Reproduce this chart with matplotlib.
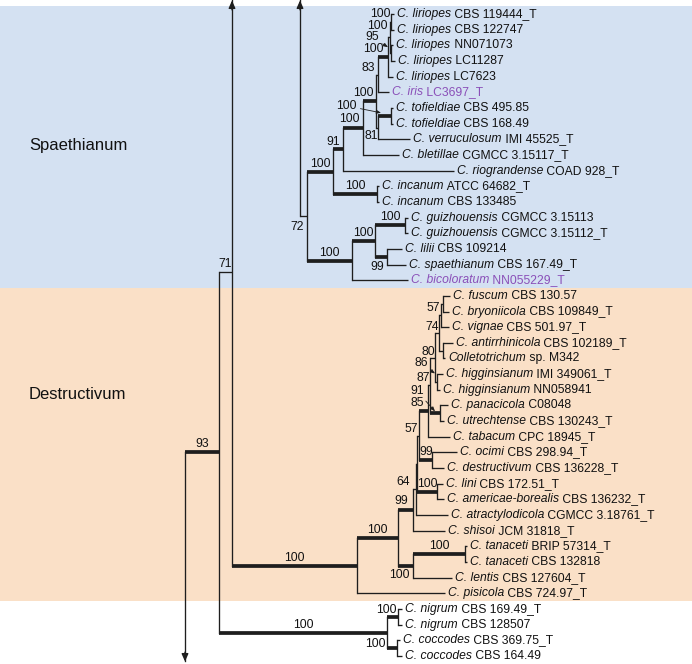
import matplotlib
matplotlib.use("Agg")
import matplotlib.pyplot as plt
from matplotlib import transforms

plt.rcParams['font.family'] = ['Liberation Sans', 'DejaVu Sans']

# ---------------- data ----------------
leaf_species = [
    'C. liriopes', 'C. liriopes', 'C. liriopes', 'C. liriopes', 'C. liriopes',
    'C. iris', 'C. tofieldiae', 'C. tofieldiae', 'C. verruculosum', 'C. bletillae',
    'C. riograndense', 'C. incanum', 'C. incanum', 'C. guizhouensis', 'C. guizhouensis',
    'C. lilii', 'C. spaethianum', 'C. bicoloratum',
    'C. fuscum', 'C. bryoniicola', 'C. vignae', 'C. antirrhinicola', 'Colletotrichum',
    'C. higginsianum', 'C. higginsianum', 'C. panacicola', 'C. utrechtense', 'C. tabacum',
    'C. ocimi', 'C. destructivum', 'C. lini', 'C. americae-borealis', 'C. atractylodicola',
    'C. shisoi', 'C. tanaceti', 'C. tanaceti', 'C. lentis', 'C. pisicola',
    'C. nigrum', 'C. nigrum', 'C. coccodes', 'C. coccodes']
leaf_strains = [
    'CBS 119444_T', 'CBS 122747', 'NN071073', 'LC11287', 'LC7623',
    'LC3697_T', 'CBS 495.85', 'CBS 168.49', 'IMI 45525_T', 'CGMCC 3.15117_T',
    'COAD 928_T', 'ATCC 64682_T', 'CBS 133485', 'CGMCC 3.15113', 'CGMCC 3.15112_T',
    'CBS 109214', 'CBS 167.49_T', 'NN055229_T',
    'CBS 130.57', 'CBS 109849_T', 'CBS 501.97_T', 'CBS 102189_T', 'sp. M342',
    'IMI 349061_T', 'NN058941', 'C08048', 'CBS 130243_T', 'CPC 18945_T',
    'CBS 298.94_T', 'CBS 136228_T', 'CBS 172.51_T', 'CBS 136232_T', 'CGMCC 3.18761_T',
    'JCM 31818_T', 'BRIP 57314_T', 'CBS 132818', 'CBS 127604_T', 'CBS 724.97_T',
    'CBS 169.49_T', 'CBS 128507', 'CBS 369.75_T', 'CBS 164.49']
leaf_parent = [
    'a', 'a', 'b', 'b', 'L1',
    'L0', 'TOF', 'TOF', 'T81', 'S3',
    'S2', 'INC', 'INC', 'GZ', 'GZ',
    'LS', 'LS', 'G',
    'f', 'f', 'fv', 'am', 'am',
    'hig', 'hig', 'pu', 'pu', 'B10',
    'OD', 'OD', 'LA', 'LA', 'D3',
    'D2', 'TAN', 'TAN', 'DT', 'DR',
    'NG', 'NG', 'CC', 'CC']
leaf_branch = [
    2.5, 2.5, 2.5, 4.0, 4.5,
    11.0, 1.5, 1.5, 31.5, 35.5,
    110.5, 1.5, 1.5, 2.5, 2.5,
    14.5, 18.5, 55.5,
    6.5, 5.5, 7.5, 9.5, 1.5,
    5.5, 2.5, 7.5, 3.5, 21.5,
    24.5, 11.5, 5.5, 6.5, 31.5,
    31.5, 1.5, 1.5, 38.5, 87.5,
    3.5, 3.5, 2.5, 4.5]
highlight_taxa = ['C. iris', 'C. bicoloratum']

node_names = ['R', 'N93', 'N71', 'DR', 'D1', 'D2', 'D3', 'X', 'Y', 'B10', 'v', 'u', 't',
              'fv', 'f', 'am', 'hig', 'pu', 'OD', 'LA', 'DT', 'TAN', 'NC', 'NG', 'CC',
              'N72', 'A', 'S1', 'S2', 'S3', 'N1', 'L0', 'L1', 'L2', 'a', 'b', 'T81', 'TOF',
              'INC', 'G', 'GL', 'GZ', 'LS']
node_parent = ['origin', 'R', 'N93', 'N71', 'DR', 'D1', 'D2', 'D3', 'X', 'Y', 'B10', 'v', 'u',
               't', 'fv', 't', 'u', 'v', 'Y', 'X', 'D1', 'DT', 'N93', 'NC', 'NC',
               'origin', 'N72', 'A', 'S1', 'S2', 'S3', 'N1', 'L0', 'L1', 'L2', 'L2', 'N1', 'T81',
               'S1', 'A', 'G', 'GL', 'GL']
node_branch = [185, 34, 13, 125, 41, 15, 3, 1, 2, 9, 2, 5, 4,
               2, 2, 4, 2, 10, 13, 20, 15, 52, 168, 11, 10,
               300, 7, 26, 10, 20, 13, 1.5, 10.5, 1.5, 1.5, 1.0, 2, 13,
               44, 45, 23, 30, 12]
node_support = [None, 93, 71, 100, 100, 99, 64, None, 57, 85, 87, 80, 74,
                57, None, None, 86, 91, 99, 100, 100, 100, 100, 100, 100,
                None, 72, 100, 91, 100, 100, 83, 100, 100, 100, 95, 81, 100,
                100, 100, 100, 100, 99]
node_thick = [False, True, False, True, True, True, False, False, False, True, False, False, False,
              False, False, False, False, True, True, True, True, True, True, True, True,
              False, False, True, True, True, True, False, True, False, False, False, False, True,
              True, True, True, True, True]

# lineages leaving the drawn part of the tree (position in leaf-row units)
hidden_names = ['up71', 'up72', 'down']
hidden_parent = ['N71', 'N72', 'R']
hidden_pos = [-2.30, -5.0, 44.0]
arrow_dir = {'N71': 'up', 'N72': 'up', 'R': 'down'}

group_names = ['Spaethianum', 'Destructivum']
group_first = [0, 18]
group_last = [17, 37]
group_colors = ['#d4e1f2', '#fae0c7']

# ---------------- layout (styling only) ----------------
W, H = 692, 664
ROW0, ROW = 14.0, 15.659
label_place = {  # support label centre relative to node, px (dx right, dy down)
    'A': (-10, 11), 'S2': (-10, -7), 'S3': (-14, -9), 'N1': (-12.5, -8.5), 'T81': (-7, 8),
    'TOF': (-45, -10), 'L0': (-9.5, -6.5), 'L1': (-15, -8), 'L2': (-12.5, -11.5),
    'a': (-11, -8), 'b': (-18.5, -16), 'LS': (-10, 10),
    'DT': (-14, 9.5), 'D2': (-12, -9), 'D3': (-13, -7), 'OD': (-6, -8), 'Y': (-8, -7),
    'B10': (-11, -8.5), 'v': (-7, -7), 'u': (-7, -6), 't': (-7, -6.5), 'fv': (-8, -7),
    'hig': (-16, -18.5), 'pu': (-23, -22), 'NG': (-12, -7), 'CC': (-22, -4),
}
label_leader = {'TOF': (-10, -3), 'b': (-2.5, -6), 'hig': (-2, -8.5), 'pu': (-5, -2)}
group_label_rows = [8.37, 24.33]
arrow_tip_px = {'up': 0.5, 'down': 661.5}

LINE = '#1e1e1e'
TXT = '#111111'
PURPLE = '#8a4fb8'
FS = 8.7
THIN, THICK = 0.95, 2.7

# ---------------- tree layout ----------------
parent = {}
blen = {}
for n, p, b in zip(node_names, node_parent, node_branch):
    parent[n] = p; blen[n] = b
leaf_ids = ['leaf%d' % i for i in range(len(leaf_species))]
for n, p, b in zip(leaf_ids, leaf_parent, leaf_branch):
    parent[n] = p; blen[n] = b
for n, p in zip(hidden_names, hidden_parent):
    parent[n] = p; blen[n] = 0.0

xpos = {'origin': 0.0}
def getx(n):
    if n not in xpos:
        xpos[n] = getx(parent[n]) + blen[n]
    return xpos[n]
for n in parent:
    getx(n)

children = {}
for n, p in parent.items():
    children.setdefault(p, []).append(n)

ypos = {}
for i, n in enumerate(leaf_ids):
    ypos[n] = float(i)
for n, v in zip(hidden_names, hidden_pos):
    ypos[n] = v
def gety(n):
    if n not in ypos:
        cy = [gety(c) for c in children[n]]
        ypos[n] = (min(cy) + max(cy)) / 2.0
    return ypos[n]
for n in node_names:
    gety(n)

# ---------------- figure ----------------
fig = plt.figure(figsize=(W / 100, H / 100), dpi=100)
ax = fig.add_axes([0, 0, 1, 1])
ax.set_xlim(0, W)
ax.set_ylim((H - ROW0) / ROW, -ROW0 / ROW)
ax.axis('off')

def px2row(p):
    return (p - ROW0) / ROW

for gname, g0, g1, col, gy in zip(group_names, group_first, group_last, group_colors, group_label_rows):
    ax.axhspan(g0 - 0.5, g1 + 0.5, color=col, lw=0, zorder=0)
    ax.text(29, gy, gname, fontsize=12, ha='left', va='center', color=TXT, zorder=3)

thick_of = dict(zip(node_names, node_thick))
sup_of = dict(zip(node_names, node_support))

# horizontal branches
for n in list(node_names) + leaf_ids:
    p = parent[n]
    if p == 'origin':
        continue
    lw = THICK if thick_of.get(n, False) else THIN
    ax.plot([xpos[p], xpos[n]], [ypos[n], ypos[n]], color=LINE, lw=lw,
            solid_capstyle='butt', zorder=2)

# vertical connectors
for n in node_names:
    vis = [ypos[c] for c in children[n] if c not in hidden_names]
    if n in arrow_dir:
        tip = px2row(arrow_tip_px[arrow_dir[n]])
        start = min(vis) if arrow_dir[n] == 'down' else max(vis)
        ax.plot([xpos[n], xpos[n]], [start, tip], color=LINE, lw=THIN, zorder=2)
        ax.annotate('', xy=(xpos[n], tip), xytext=(xpos[n], tip + (0.6 if arrow_dir[n] == 'up' else -0.6)),
                    arrowprops=dict(arrowstyle='-|>,head_length=0.45,head_width=0.2', color=LINE,
                                    lw=THIN, shrinkA=0, shrinkB=0), zorder=3)
    else:
        ax.plot([xpos[n], xpos[n]], [min(vis), max(vis)], color=LINE, lw=THIN,
                solid_capstyle='projecting', zorder=2)

# support values
for n in node_names:
    s = sup_of[n]
    if s is None:
        continue
    if n in label_place:
        dx, dy = label_place[n]
        if n in label_leader:
            lx, ly = label_leader[n]
            tr = transforms.offset_copy(ax.transData, fig=fig, x=lx, y=-ly, units='dots')
            ax.annotate(str(s), xy=(xpos[n], ypos[n]), xycoords=tr,
                        xytext=(dx - lx, -(dy - ly)), textcoords='offset pixels',
                        ha='center', va='center', fontsize=FS, color=TXT, zorder=4,
                        arrowprops=dict(arrowstyle='-|>,head_length=0.3,head_width=0.12',
                                        color=LINE, lw=0.6, shrinkA=1, shrinkB=0))
        else:
            ax.annotate(str(s), xy=(xpos[n], ypos[n]), xytext=(dx, -dy),
                        textcoords='offset pixels', ha='center', va='center',
                        fontsize=FS, color=TXT, zorder=4)
    else:
        mx = (xpos[parent[n]] + xpos[n]) / 2
        ax.annotate(str(s), xy=(mx, ypos[n]), xytext=(0, 2), textcoords='offset pixels',
                    ha='center', va='bottom', fontsize=FS, color=TXT, zorder=4)

# leaf labels
for n, sp, st in zip(leaf_ids, leaf_species, leaf_strains):
    col = PURPLE if sp in highlight_taxa else TXT
    t1 = ax.annotate(sp, xy=(xpos[n], ypos[n]), xytext=(3.5, 0), textcoords='offset pixels',
                     ha='left', va='center', fontsize=FS, style='italic', color=col, zorder=4)
    ax.annotate(' ' + st, xy=(1, 0), xycoords=t1, ha='left', va='bottom',
                fontsize=FS, color=col, zorder=4)

fig.savefig('out.png', dpi=100)
